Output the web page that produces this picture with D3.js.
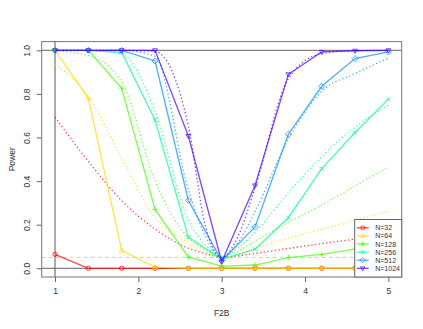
<!DOCTYPE html>
<html>
<head>
<meta charset="utf-8">
<script src="https://cdn.jsdelivr.net/npm/d3@7"></script>
<style>
  body { margin: 0; background: #fff; }
  svg { display: block; font-family: "Liberation Sans", Arial, sans-serif; }
</style>
</head>
<body>
<div id="chart"></div>
<script>
// simulated power (solid lines + markers)
var f2b = [1, 1.4, 1.8, 2.2, 2.6, 3.0, 3.4, 3.8, 4.2, 4.6, 5.0];
var simN32   = [0.064, 0, 0, 0, 0, 0, 0, 0, 0, 0, 0];
var simN64   = [1.0, 0.78, 0.081, 0.005, 0, 0, 0, 0, 0, 0, 0];
var simN128  = [1, 1, 0.826, 0.27, 0.051, 0.01, 0.015, 0.049, 0.064, 0.088, 0.11];
var simN256  = [1, 1, 0.99, 0.68, 0.143, 0.04, 0.088, 0.232, 0.457, 0.623, 0.776];
var simN512  = [1, 1, 1, 0.951, 0.311, 0.035, 0.19, 0.615, 0.835, 0.962, 0.993];
var simN1024 = [1, 1, 1, 1, 0.607, 0.03, 0.38, 0.89, 0.993, 0.998, 1];

// theoretical power (dotted curves)
var f2bTheory = [1, 1.4, 1.8, 2.2, 2.6, 2.8, 3.0, 3.2, 3.4, 3.8, 4.2, 4.6, 5.0];
var thN32   = [0.694, 0.49, 0.31, 0.18, 0.092, 0.068, 0.05, 0.057, 0.068, 0.091, 0.113, 0.134, 0.155];
var thN64   = [0.936, 0.79, 0.505, 0.232, 0.117, 0.076, 0.05, 0.066, 0.092, 0.138, 0.179, 0.22, 0.263];
var thN128  = [0.998, 0.976, 0.855, 0.40, 0.14, 0.086, 0.05, 0.08, 0.125, 0.21, 0.29, 0.378, 0.465];
var thN256  = [1, 0.999, 0.982, 0.72, 0.22, 0.11, 0.05, 0.095, 0.165, 0.347, 0.512, 0.648, 0.748];
var thN512  = [1, 1, 1, 0.972, 0.36, 0.15, 0.05, 0.12, 0.26, 0.592, 0.812, 0.893, 0.964];
var thN1024 = [1, 1, 1, 0.995, 0.652, 0.2, 0.05, 0.15, 0.37, 0.87, 0.985, 0.999, 1];

var seriesNames = ["N=32", "N=64", "N=128", "N=256", "N=512", "N=1024"];
var colors = ["#FF0000", "#FFDB00", "#49FF00", "#00FF92", "#0092FF", "#4900FF"];
var shapes = ["circle", "triangle", "plus", "cross", "diamond", "triangleDown"];
var xTicks = [1, 2, 3, 4, 5];
var yTicks = [0, 0.2, 0.4, 0.6, 0.8, 1.0];

var sims = [simN32, simN64, simN128, simN256, simN512, simN1024];
var theory = [thN32, thN64, thN128, thN256, thN512, thN1024];

var width = 423, height = 329;
// plot box (window.top is read-only, so no "top" name here)
var pLeft = 41.7, pRight = 401.7, pTop = 41.6, pBottom = 277;

var svg = d3.select("#chart").append("svg")
    .attr("width", width)
    .attr("height", height);

// R style 4% padding around data range
var x = d3.scaleLinear().domain([0.84, 5.16]).range([pLeft, pRight]);
var y = d3.scaleLinear().domain([-0.04, 1.04]).range([pBottom, pTop]);

// reference lines
svg.append("line")
    .attr("x1", x(1)).attr("x2", x(1)).attr("y1", pTop).attr("y2", pBottom)
    .attr("stroke", "#aaa").attr("stroke-width", 2);
[0, 1].forEach(function(v) {
  svg.append("line")
      .attr("x1", pLeft).attr("x2", pRight).attr("y1", y(v)).attr("y2", y(v))
      .attr("stroke", "#666").attr("stroke-width", 1);
});
svg.append("line")
    .attr("x1", pLeft).attr("x2", pRight).attr("y1", y(0.05)).attr("y2", y(0.05))
    .attr("stroke", "#ccc").attr("stroke-width", 1).attr("stroke-dasharray", "4,3");

function markerPath(shape, r) {
  var p = d3.path();
  if (shape == "circle") {
    p.moveTo(r, 0); p.arc(0, 0, r, 0, 2 * Math.PI);
  } else if (shape == "triangle") {
    p.moveTo(0, -r * 1.2); p.lineTo(r * 1.1, r * 0.7); p.lineTo(-r * 1.1, r * 0.7); p.closePath();
  } else if (shape == "triangleDown") {
    p.moveTo(0, r * 1.2); p.lineTo(r * 1.1, -r * 0.7); p.lineTo(-r * 1.1, -r * 0.7); p.closePath();
  } else if (shape == "plus") {
    p.moveTo(-r * 1.3, 0); p.lineTo(r * 1.3, 0); p.moveTo(0, -r * 1.3); p.lineTo(0, r * 1.3);
  } else if (shape == "cross") {
    p.moveTo(-r, -r); p.lineTo(r, r); p.moveTo(-r, r); p.lineTo(r, -r);
  } else if (shape == "diamond") {
    p.moveTo(0, -r * 1.35); p.lineTo(r * 1.35, 0); p.lineTo(0, r * 1.35); p.lineTo(-r * 1.35, 0); p.closePath();
  }
  return p.toString();
}

var solid = d3.line()
    .x(function(d) { return x(d[0]); })
    .y(function(d) { return y(d[1]); });

var smooth = d3.line()
    .curve(d3.curveMonotoneX)
    .x(function(d) { return x(d[0]); })
    .y(function(d) { return y(d[1]); });

var alpha = 0.72;

sims.forEach(function(vals, i) {
  var g = svg.append("g").attr("class", "series");
  var th = f2bTheory.map(function(v, j) { return [v, theory[i][j]]; });
  var pts = f2b.map(function(v, j) { return [v, vals[j]]; });

  g.append("path")
      .attr("d", smooth(th))
      .attr("fill", "none")
      .attr("stroke", colors[i])
      .attr("stroke-opacity", alpha)
      .attr("stroke-width", 1.3)
      .attr("stroke-dasharray", "1.3,2.4");

  g.append("path")
      .attr("d", solid(pts))
      .attr("fill", "none")
      .attr("stroke", colors[i])
      .attr("stroke-opacity", alpha)
      .attr("stroke-width", 1.3);

  g.selectAll(".pt")
    .data(pts)
    .enter().append("path")
      .attr("class", "pt")
      .attr("transform", function(d) { return "translate(" + x(d[0]) + "," + y(d[1]) + ")"; })
      .attr("d", markerPath(shapes[i], 2.2))
      .attr("fill", "none")
      .attr("stroke", colors[i])
      .attr("stroke-opacity", alpha)
      .attr("stroke-width", 1);
});

// box
svg.append("rect")
    .attr("x", pLeft).attr("y", pTop)
    .attr("width", pRight - pLeft).attr("height", pBottom - pTop)
    .attr("fill", "none").attr("stroke", "#777").attr("stroke-width", 1);

// x axis
var xAxis = svg.append("g")
    .attr("transform", "translate(0," + pBottom + ")")
    .call(d3.axisBottom(x).tickValues(xTicks).tickSize(5).tickPadding(6).tickFormat(d3.format("d")));
xAxis.select(".domain").remove();
xAxis.selectAll("line").attr("stroke", "#666");
xAxis.selectAll("text").attr("font-size", "8.5px").attr("fill", "#333")
    .attr("font-family", "Liberation Sans, Arial, sans-serif");

// y axis, labels rotated as in R
var yAxis = svg.append("g")
    .attr("transform", "translate(" + pLeft + ",0)")
    .call(d3.axisLeft(y).tickValues(yTicks).tickSize(5).tickFormat(d3.format(".1f")));
yAxis.select(".domain").remove();
yAxis.selectAll("line").attr("stroke", "#666");
yAxis.selectAll("text")
    .attr("font-size", "8.5px").attr("fill", "#333")
    .attr("font-family", "Liberation Sans, Arial, sans-serif")
    .attr("text-anchor", "middle")
    .attr("x", 0).attr("dy", 0)
    .attr("transform", "translate(-15,0) rotate(-90)")
    .attr("dominant-baseline", "central");

svg.append("text")
    .attr("x", (pLeft + pRight) / 2).attr("y", 316)
    .attr("text-anchor", "middle")
    .attr("font-size", "8.5px").attr("fill", "#333")
    .text("F2B");

svg.append("text")
    .attr("transform", "translate(12," + ((pTop + pBottom) / 2) + ") rotate(-90)")
    .attr("text-anchor", "middle")
    .attr("dominant-baseline", "central")
    .attr("font-size", "8.5px").attr("fill", "#333")
    .text("Power");

// legend, bottom right inside the box
var lgW = 47, lgH = 57.5, rowH = 8.1;
var lg = svg.append("g")
    .attr("transform", "translate(" + (pRight - lgW) + "," + (pBottom - lgH) + ")");
lg.append("rect")
    .attr("width", lgW).attr("height", lgH)
    .attr("fill", "#fff").attr("stroke", "#666").attr("stroke-width", 1);

var item = lg.selectAll(".item")
    .data(seriesNames)
  .enter().append("g")
    .attr("class", "item")
    .attr("transform", function(d, i) { return "translate(0," + (8.3 + i * rowH) + ")"; });

item.append("line")
    .attr("x1", 2).attr("x2", 14)
    .attr("stroke", function(d, i) { return colors[i]; })
    .attr("stroke-opacity", alpha)
    .attr("stroke-width", 1.3);
item.append("path")
    .attr("transform", "translate(8,0)")
    .attr("d", function(d, i) { return markerPath(shapes[i], 2); })
    .attr("fill", "none")
    .attr("stroke", function(d, i) { return colors[i]; })
    .attr("stroke-opacity", alpha)
    .attr("stroke-width", 1);
item.append("text")
    .attr("x", 20.5)
    .attr("dominant-baseline", "central")
    .attr("font-size", "7px").attr("fill", "#333")
    .text(function(d) { return d; });
</script>
</body>
</html>
